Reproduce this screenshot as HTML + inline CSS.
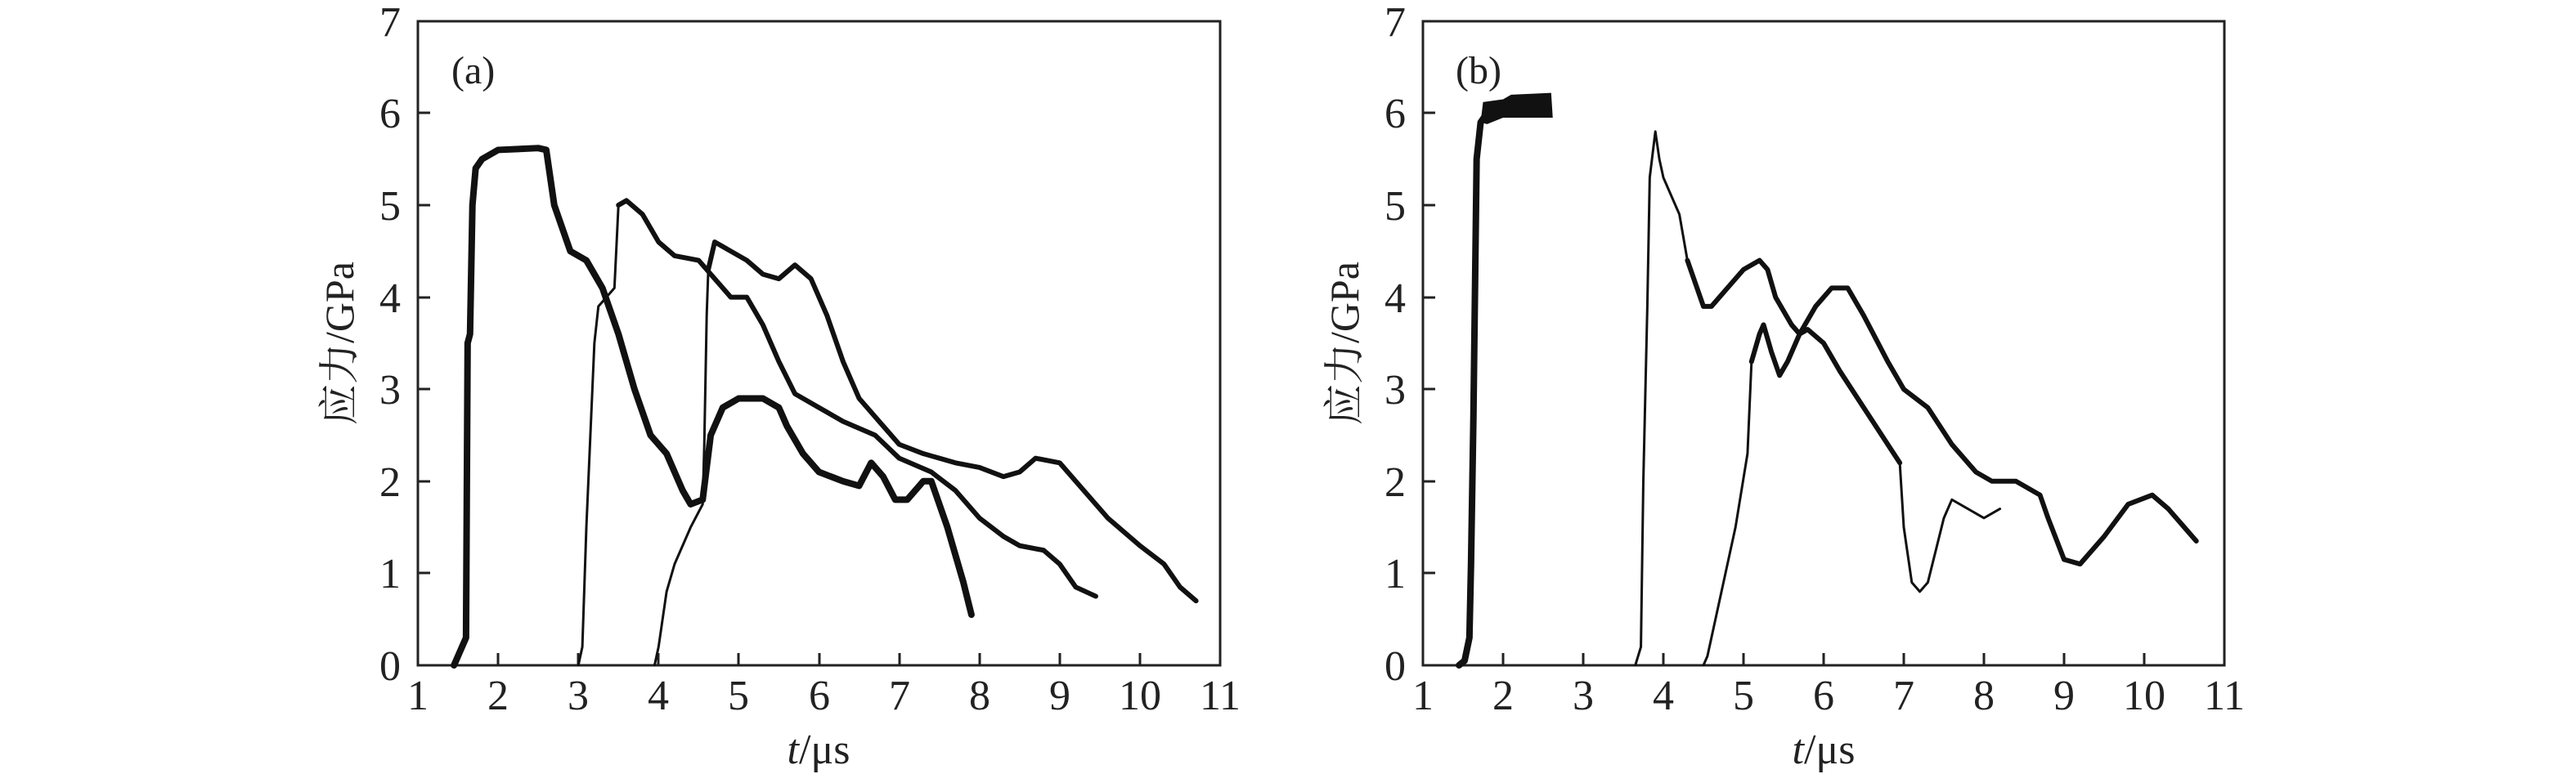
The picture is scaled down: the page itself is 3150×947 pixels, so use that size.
<!DOCTYPE html>
<html><head><meta charset="utf-8"><style>
html,body{margin:0;padding:0;background:#fff;}
svg{display:block}
text{font-family:"Liberation Serif","Noto Serif CJK SC",serif;fill:#222;}
.c{fill:none;stroke:#111;vector-effect:non-scaling-stroke;stroke-linejoin:round;stroke-linecap:round}
</style></head><body>
<svg width="3150" height="947" viewBox="0 0 3150 947" xmlns="http://www.w3.org/2000/svg">
<!-- Panel A -->
<g>
<rect x="511" y="26" width="981" height="788" fill="none" stroke="#222" stroke-width="3"/>
<g stroke="#222" stroke-width="3">
<line x1="609" y1="814" x2="609" y2="799"/><line x1="707" y1="814" x2="707" y2="799"/><line x1="805" y1="814" x2="805" y2="799"/><line x1="903" y1="814" x2="903" y2="799"/><line x1="1002" y1="814" x2="1002" y2="799"/><line x1="1100" y1="814" x2="1100" y2="799"/><line x1="1198" y1="814" x2="1198" y2="799"/><line x1="1296" y1="814" x2="1296" y2="799"/><line x1="1394" y1="814" x2="1394" y2="799"/>
<line x1="511" y1="701" x2="526" y2="701"/><line x1="511" y1="589" x2="526" y2="589"/><line x1="511" y1="476" x2="526" y2="476"/><line x1="511" y1="364" x2="526" y2="364"/><line x1="511" y1="251" x2="526" y2="251"/><line x1="511" y1="138" x2="526" y2="138"/>
</g>
<g font-size="52" text-anchor="middle">
<text x="511" y="868">1</text><text x="609" y="868">2</text><text x="707" y="868">3</text><text x="805" y="868">4</text><text x="903" y="868">5</text><text x="1002" y="868">6</text><text x="1100" y="868">7</text><text x="1198" y="868">8</text><text x="1296" y="868">9</text><text x="1394" y="868">10</text><text x="1492" y="868">11</text>
</g>
<g font-size="52" text-anchor="end">
<text x="490" y="832">0</text><text x="490" y="719">1</text><text x="490" y="607">2</text><text x="490" y="494">3</text><text x="490" y="382">4</text><text x="490" y="269">5</text><text x="490" y="156">6</text><text x="490" y="44">7</text>
</g>
<text x="1001" y="934" font-size="52" text-anchor="middle"><tspan font-style="italic">t</tspan>/μs</text>
<text transform="translate(432,420) rotate(-90)" font-size="50" text-anchor="middle">应力/GPa</text>
<text x="552" y="102" font-size="48">(a)</text>
<g transform="translate(511,814) scale(98.1,-112.6) translate(-1,0)">
<polyline class="c" stroke-width="8" points="1.45,0 1.5,0.1 1.6,0.3 1.62,3.5 1.65,3.6 1.68,5.0 1.72,5.4 1.8,5.5 2.0,5.6 2.5,5.62 2.6,5.6 2.7,5.0 2.9,4.5 3.1,4.4 3.3,4.1 3.5,3.6 3.7,3.0 3.9,2.5 4.1,2.3 4.3,1.9 4.4,1.75 4.55,1.8 4.65,2.5 4.8,2.8 5.0,2.9 5.3,2.9 5.5,2.8 5.6,2.6 5.8,2.3 6.0,2.1 6.3,2.0 6.5,1.95 6.65,2.2 6.8,2.05 6.95,1.8 7.1,1.8 7.3,2.0 7.4,2.0 7.6,1.5 7.8,0.9 7.9,0.55"/>
<polyline class="c" stroke-width="3" points="3.0,0 3.05,0.2 3.1,1.5 3.15,2.5 3.2,3.5 3.25,3.9 3.35,4.0 3.45,4.1 3.5,5.0"/>
<polyline class="c" stroke-width="6" points="3.5,5.0 3.6,5.05 3.8,4.9 4.0,4.6 4.2,4.45 4.5,4.4 4.7,4.2 4.9,4.0 5.1,4.0 5.3,3.7 5.5,3.3 5.7,2.95 6.0,2.8 6.3,2.65 6.7,2.5 7.0,2.25 7.4,2.1 7.7,1.9 8.0,1.6 8.3,1.4 8.5,1.3 8.8,1.25 9.0,1.1 9.2,0.85 9.45,0.75"/>
<polyline class="c" stroke-width="3" points="3.95,0 4.0,0.2 4.1,0.8 4.2,1.1 4.4,1.5 4.55,1.75 4.57,2.4 4.6,3.8 4.62,4.3"/>
<polyline class="c" stroke-width="6" points="4.62,4.3 4.7,4.6 4.9,4.5 5.1,4.4 5.3,4.25 5.5,4.2 5.7,4.35 5.9,4.2 6.1,3.8 6.3,3.3 6.5,2.9 6.8,2.6 7.0,2.4 7.3,2.3 7.7,2.2 8.0,2.15 8.3,2.05 8.5,2.1 8.7,2.25 9.0,2.2 9.3,1.9 9.6,1.6 10.0,1.3 10.3,1.1 10.5,0.85 10.7,0.7"/>
</g>
</g>
<!-- Panel B -->
<g>
<rect x="1740" y="26" width="980" height="788" fill="none" stroke="#222" stroke-width="3"/>
<g stroke="#222" stroke-width="3">
<line x1="1838" y1="814" x2="1838" y2="799"/><line x1="1936" y1="814" x2="1936" y2="799"/><line x1="2034" y1="814" x2="2034" y2="799"/><line x1="2132" y1="814" x2="2132" y2="799"/><line x1="2230" y1="814" x2="2230" y2="799"/><line x1="2328" y1="814" x2="2328" y2="799"/><line x1="2426" y1="814" x2="2426" y2="799"/><line x1="2524" y1="814" x2="2524" y2="799"/><line x1="2622" y1="814" x2="2622" y2="799"/>
<line x1="1740" y1="701" x2="1755" y2="701"/><line x1="1740" y1="589" x2="1755" y2="589"/><line x1="1740" y1="476" x2="1755" y2="476"/><line x1="1740" y1="364" x2="1755" y2="364"/><line x1="1740" y1="251" x2="1755" y2="251"/><line x1="1740" y1="138" x2="1755" y2="138"/>
</g>
<g font-size="52" text-anchor="middle">
<text x="1740" y="868">1</text><text x="1838" y="868">2</text><text x="1936" y="868">3</text><text x="2034" y="868">4</text><text x="2132" y="868">5</text><text x="2230" y="868">6</text><text x="2328" y="868">7</text><text x="2426" y="868">8</text><text x="2524" y="868">9</text><text x="2622" y="868">10</text><text x="2720" y="868">11</text>
</g>
<g font-size="52" text-anchor="end">
<text x="1719" y="832">0</text><text x="1719" y="719">1</text><text x="1719" y="607">2</text><text x="1719" y="494">3</text><text x="1719" y="382">4</text><text x="1719" y="269">5</text><text x="1719" y="156">6</text><text x="1719" y="44">7</text>
</g>
<text x="2230" y="934" font-size="52" text-anchor="middle"><tspan font-style="italic">t</tspan>/μs</text>
<text transform="translate(1661,420) rotate(-90)" font-size="50" text-anchor="middle">应力/GPa</text>
<text x="1780" y="102" font-size="48">(b)</text>
<g transform="translate(1740,814) scale(98,-112.6) translate(-1,0)">
<polyline class="c" stroke-width="8" points="1.45,0 1.52,0.05 1.58,0.3 1.6,1.1 1.63,2.7 1.67,5.5 1.72,5.9 1.8,6.0 2.0,6.05"/>
<polygon fill="#111" points="1.72,5.9 1.75,6.12 2.0,6.15 2.1,6.2 2.6,6.22 2.62,5.95 2.0,5.95 1.8,5.88"/>
<polyline class="c" stroke-width="3" points="3.65,0 3.72,0.2 3.75,2 3.8,3.9 3.83,5.3 3.9,5.8 3.95,5.5 4.0,5.3 4.2,4.9 4.3,4.4"/>
<polyline class="c" stroke-width="6" points="4.3,4.4 4.5,3.9 4.6,3.9 4.8,4.1 5.0,4.3 5.2,4.4 5.3,4.3 5.4,4.0 5.6,3.7 5.7,3.6 5.8,3.65 6.0,3.5 6.2,3.2 6.5,2.8 6.8,2.4 6.95,2.2"/>
<polyline class="c" stroke-width="3" points="6.95,2.2 7.0,1.5 7.1,0.9 7.2,0.8 7.3,0.9 7.5,1.6 7.6,1.8 7.8,1.7 8.0,1.6 8.2,1.7"/>
<polyline class="c" stroke-width="3" points="4.5,0 4.55,0.1 4.7,0.7 4.9,1.5 5.05,2.3 5.1,3.3"/>
<polyline class="c" stroke-width="6" points="5.1,3.3 5.2,3.6 5.25,3.7 5.35,3.4 5.45,3.15 5.55,3.3 5.7,3.6 5.9,3.9 6.1,4.1 6.3,4.1 6.5,3.8 6.8,3.3 7.0,3.0 7.3,2.8 7.6,2.4 7.9,2.1 8.1,2.0 8.4,2.0 8.7,1.85 8.8,1.6 9.0,1.15 9.2,1.1 9.5,1.4 9.8,1.75 10.1,1.85 10.3,1.7 10.6,1.4 10.65,1.35"/>
</g>
</g>
</svg>
</body></html>
